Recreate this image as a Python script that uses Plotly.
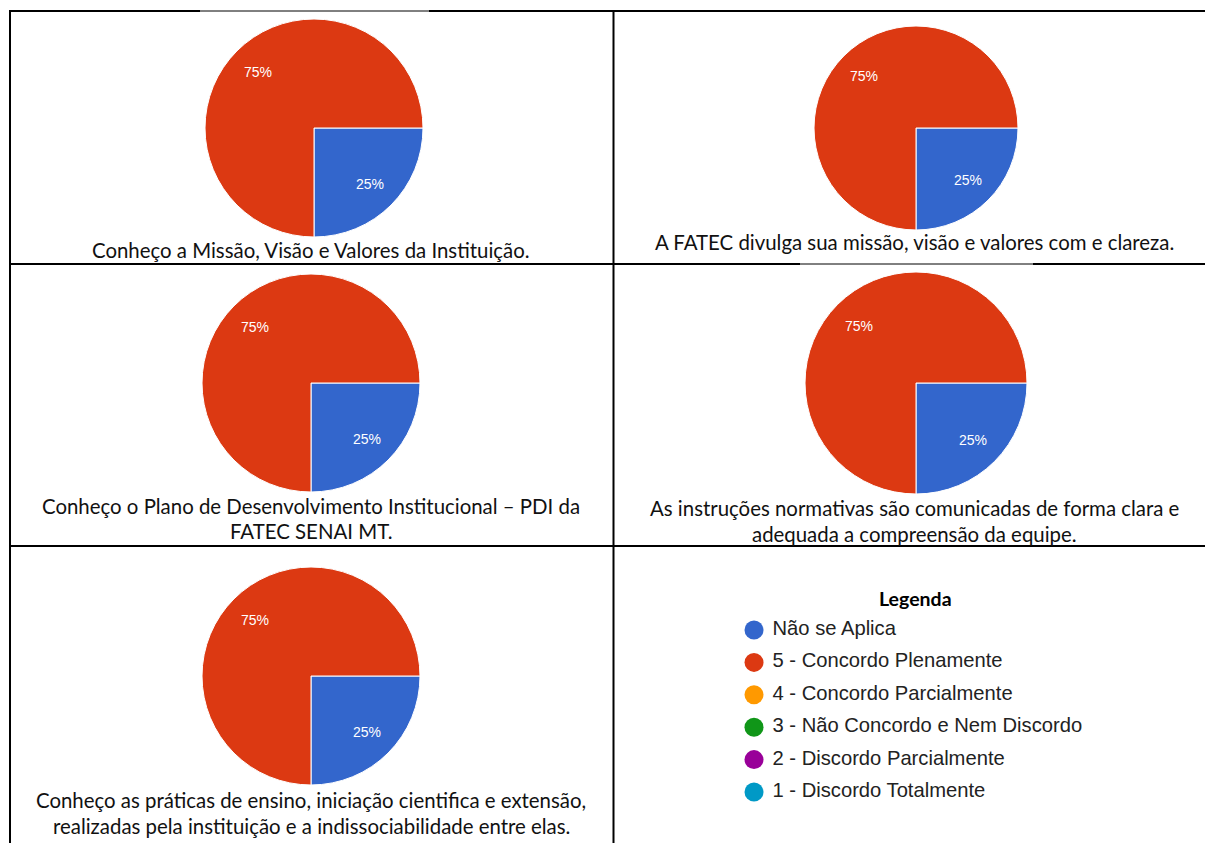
import math
import plotly.graph_objects as go

W, H = 1205, 843

# ---------------- data ----------------
slice_labels = ["Não se Aplica", "5 - Concordo Plenamente"]
slice_colors = ["#3366CC", "#DC3912"]
nao_se_aplica = [25, 25, 25, 25, 25]
concordo_plenamente = [75, 75, 75, 75, 75]

captions = [
    ["Conheço a Missão, Visão e Valores da Instituição."],
    ["A FATEC divulga sua missão, visão e valores com e clareza."],
    ["Conheço o Plano de Desenvolvimento Institucional – PDI da", "FATEC SENAI MT."],
    ["As instruções normativas são comunicadas de forma clara e", "adequada a compreensão da equipe."],
    ["Conheço as práticas de ensino, iniciação cientifica e extensão,",
     "realizadas pela instituição e a indissociabilidade entre elas."],
]

legend_title = "Legenda"
legend_labels = ["Não se Aplica", "5 - Concordo Plenamente", "4 - Concordo Parcialmente",
                 "3 - Não Concordo e Nem Discordo", "2 - Discordo Parcialmente",
                 "1 - Discordo Totalmente"]
legend_colors = ["#3366CC", "#DC3912", "#FF9900", "#109618", "#990099", "#0099C6"]

# ---------------- layout helpers (pixel -> paper) ----------------
def px(x):
    return x / W

def py(y):
    return 1 - y / H

# pie centers / radii in pixels
pie_geom = [(314, 128, 109), (916, 128, 102), (311, 383, 109), (916, 383, 111), (311, 676, 109)]
caption_pos = [[(311, 250)], [(914, 242)], [(311, 506), (311, 531)],
               [(914, 508), (914, 534)], [(311, 800), (311, 826)]]
START_ANGLE = 90   # first slice starts at 3 o'clock, clockwise
LABEL_RADIUS = 0.725

fig = go.Figure()

for i, (cx, cy, r) in enumerate(pie_geom):
    vals = [nao_se_aplica[i], concordo_plenamente[i]]
    fig.add_trace(go.Pie(
        labels=slice_labels,
        values=vals,
        marker=dict(colors=slice_colors, line=dict(color="white", width=1)),
        sort=False, direction="clockwise", rotation=START_ANGLE,
        textinfo="none",
        domain=dict(x=[px(cx - r), px(cx + r)], y=[py(cy + r), py(cy - r)]),
        showlegend=False, hoverinfo="label+percent",
    ))
    # percent labels placed at the slice mid-angle (Google-Charts style)
    total = sum(vals)
    cum = 0
    for v in vals:
        theta = math.radians(START_ANGLE + (cum + v / 2) / total * 360)
        lx = cx + LABEL_RADIUS * r * math.sin(theta)
        ly = cy - LABEL_RADIUS * r * math.cos(theta)
        fig.add_annotation(x=px(lx), y=py(ly), xref="paper", yref="paper",
                           text=f"{round(v / total * 100)}%", showarrow=False,
                           xanchor="center", yanchor="middle",
                           font=dict(family="Liberation Sans, Arial", size=14, color="white"))
        cum += v

# legend as a scatter on a hidden axis
fig.add_trace(go.Scatter(
    x=[0] * len(legend_labels), y=list(range(len(legend_labels))),
    mode="markers+text", text=[" " + t for t in legend_labels], textposition="middle right",
    marker=dict(size=19, color=legend_colors, line=dict(width=0)),
    textfont=dict(family="Liberation Sans, Arial", size=20.2, color="#222222"),
    showlegend=False, cliponaxis=False, hoverinfo="text",
))

fig.update_layout(
    width=W, height=H, margin=dict(l=0, r=0, t=0, b=0),
    paper_bgcolor="white", plot_bgcolor="rgba(0,0,0,0)",
    xaxis=dict(domain=[px(754), px(1180)], range=[0, 1], visible=False, fixedrange=True),
    yaxis=dict(domain=[py(808), py(614)], range=[5.494, -0.494], visible=False, fixedrange=True),
)

# captions
for lines, poss in zip(captions, caption_pos):
    for text, (x, y) in zip(lines, poss):
        fig.add_annotation(x=px(x), y=py(y), xref="paper", yref="paper", text=text,
                           showarrow=False, xanchor="center", yanchor="middle",
                           font=dict(family="Lato, Open Sans", size=20.4, color="#111111"))

fig.add_annotation(x=px(915), y=py(598), xref="paper", yref="paper",
                   text="<b>" + legend_title + "</b>", showarrow=False,
                   xanchor="center", yanchor="middle",
                   font=dict(family="Lato, Open Sans", size=19.5, color="black"))

# table grid lines
def hline(y, x0, x1, w=2):
    fig.add_shape(type="line", xref="paper", yref="paper", x0=px(x0), x1=px(x1),
                  y0=py(y), y1=py(y), line=dict(color="black", width=w), layer="below")

def vline(x, y0, y1, w=2):
    fig.add_shape(type="line", xref="paper", yref="paper", x0=px(x), x1=px(x),
                  y0=py(y0), y1=py(y1), line=dict(color="black", width=w), layer="below")

hline(11, 9, 200); hline(11, 200, 429, 1); hline(11, 429, 1205)
hline(264, 9, 800); hline(264, 800, 1033, 1); hline(264, 1033, 1205)
hline(546, 9, 1205)
vline(10, 10, 843)
vline(613.5, 10, 843)

fig.write_html("out.html", config={"displayModeBar": False},
               post_script="document.body.style.margin='0px';"
                           "document.documentElement.style.overflow='hidden';")
